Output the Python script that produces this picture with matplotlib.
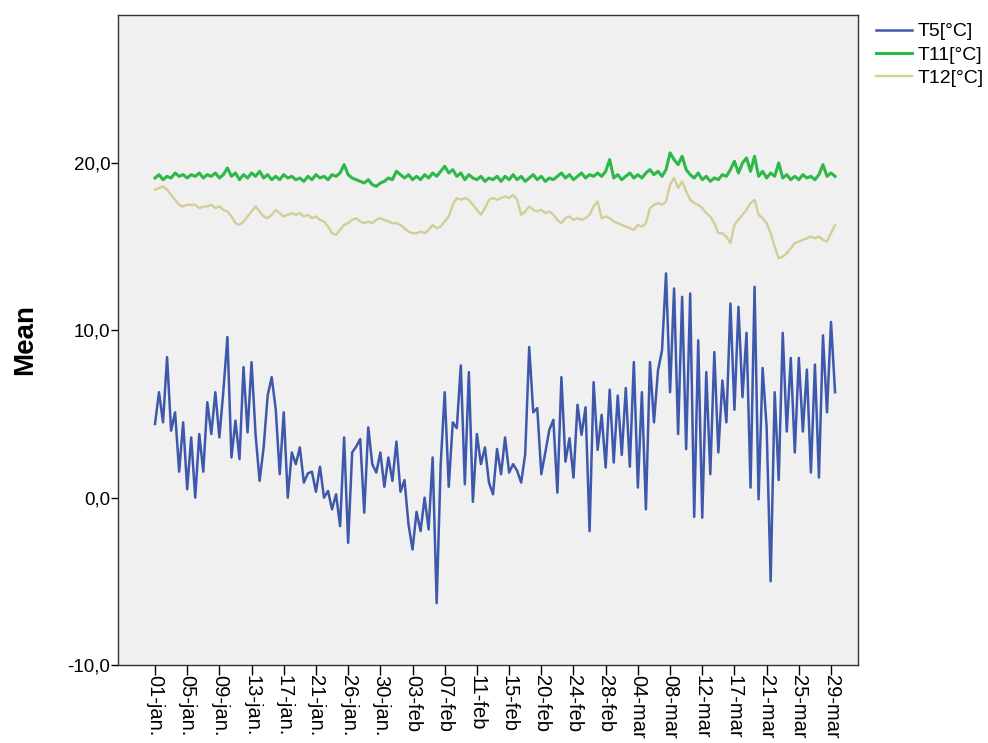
import matplotlib.pyplot as plt
import numpy as np

# two samples per day (daily low/high), 01-jan .. 29-mar, three days missing
t5 = [4.4, 6.3, 4.5, 8.4, 4.0, 5.1, 1.55, 4.5, 0.5, 3.6,
      0.0, 3.8, 1.55, 5.7, 3.8, 6.3, 3.6, 6.4, 9.6, 2.4,
      4.6, 2.3, 7.8, 3.9, 8.1, 3.75, 1.0, 3.0, 6.1, 7.2,
      5.3, 1.4, 5.1, 0.0, 2.7, 2.0, 3.0, 0.9, 1.45, 1.55,
      0.35, 1.85, 0.0, 0.4, -0.7, 0.2, -1.7, 3.6, -2.7, 2.7,
      3.05, 3.5, -0.9, 4.2, 2.0, 1.5, 2.7, 0.65, 2.4, 1.0,
      3.35, 0.35, 1.05, -1.6, -3.1, -0.85, -2.0, 0.0, -1.9, 2.4,
      -6.3, 2.0, 6.3, 0.65, 4.5, 4.15, 7.9, 0.8, 7.5, -0.25,
      3.8, 2.0, 3.0, 0.9, 0.2, 2.9, 1.4, 3.6, 1.5, 2.0,
      1.6, 0.9, 2.6, 9.0, 5.1, 5.35, 1.4, 2.7, 4.05, 4.65,
      0.3, 7.2, 2.15, 3.55, 1.2, 5.55, 3.75, 5.4, -2.0, 6.9,
      2.85, 4.95, 1.8, 6.45, 2.1, 6.1, 2.55, 6.55, 1.85, 8.1,
      0.6, 6.3, -0.7, 8.1, 4.5, 7.6, 8.8, 13.4, 6.3, 12.5,
      3.8, 12.0, 2.9, 12.2, -1.15, 9.4, -1.2, 7.5, 1.4, 8.7,
      2.7, 7.0, 4.5, 11.6, 5.25, 11.4, 6.0, 9.85, 0.6, 12.6,
      -0.1, 7.75, 4.2, -5.0, 6.3, 1.05, 9.85, 3.95, 8.35, 2.7,
      8.35, 3.95, 7.65, 1.5, 7.95, 1.2, 9.7, 5.1, 10.5, 6.3]

t11 = [19.1, 19.3, 19.0, 19.2, 19.1, 19.4, 19.2, 19.3, 19.1, 19.3,
       19.2, 19.4, 19.1, 19.3, 19.2, 19.4, 19.1, 19.3, 19.7, 19.2,
       19.4, 19.0, 19.3, 19.1, 19.4, 19.2, 19.5, 19.1, 19.3, 19.0,
       19.2, 19.0, 19.3, 19.1, 19.2, 19.0, 19.1, 18.9, 19.2, 19.0,
       19.3, 19.1, 19.2, 19.0, 19.3, 19.2, 19.4, 19.9, 19.3, 19.1,
       19.0, 18.9, 18.8, 19.0, 18.7, 18.6, 18.8, 18.9, 19.1, 19.0,
       19.5, 19.3, 19.1, 19.3, 19.0, 19.2, 19.0, 19.3, 19.1, 19.4,
       19.2, 19.5, 19.8, 19.4, 19.6, 19.2, 19.4, 19.0, 19.3, 19.1,
       19.0, 19.2, 18.9, 19.1, 19.0, 19.2, 18.9, 19.2, 19.0, 19.3,
       19.0, 19.2, 18.9, 19.1, 19.3, 19.0, 19.2, 18.9, 19.1, 19.0,
       19.2, 19.4, 19.1, 19.3, 19.0, 19.2, 19.4, 19.1, 19.3, 19.2,
       19.4, 19.2, 19.5, 20.2, 19.1, 19.3, 19.0, 19.2, 19.4, 19.1,
       19.3, 19.1, 19.4, 19.6, 19.3, 19.5, 19.2, 19.6, 20.6, 20.2,
       19.9, 20.4, 19.6, 19.3, 19.1, 19.4, 19.0, 19.2, 18.9, 19.1,
       19.0, 19.3, 19.2, 19.6, 20.1, 19.4, 20.0, 20.3, 19.5, 20.4,
       19.2, 19.5, 19.1, 19.4, 19.2, 20.0, 19.1, 19.3, 19.0, 19.2,
       19.0, 19.3, 19.1, 19.2, 19.0, 19.3, 19.9, 19.2, 19.4, 19.2]

t12 = [18.4, 18.5, 18.6, 18.4, 18.1, 17.8, 17.5, 17.4, 17.5, 17.5,
       17.5, 17.3, 17.4, 17.4, 17.5, 17.3, 17.4, 17.2, 17.1, 16.8,
       16.4, 16.3, 16.5, 16.8, 17.1, 17.4, 17.1, 16.8, 16.7, 16.9,
       17.2, 17.0, 16.8, 16.9, 17.0, 16.9, 17.0, 16.8, 16.9, 16.7,
       16.8, 16.6, 16.5, 16.2, 15.8, 15.7, 16.0, 16.3, 16.4, 16.6,
       16.7, 16.5, 16.4, 16.5, 16.4, 16.6, 16.7, 16.6, 16.5, 16.4,
       16.4, 16.3, 16.1, 15.9, 15.8, 15.8, 15.9, 15.8, 16.0, 16.3,
       16.1, 16.2, 16.5, 16.8, 17.5, 17.9, 17.8, 17.9, 17.8, 17.5,
       17.2, 16.9, 17.3, 17.8, 17.9, 17.8, 17.9, 18.0, 17.9, 18.1,
       17.8, 16.9, 17.1, 17.4, 17.2, 17.1, 17.2, 17.0, 17.1, 16.9,
       16.6, 16.4, 16.7, 16.8, 16.6, 16.7, 16.6, 16.7, 16.9, 17.4,
       17.7, 16.7, 16.8, 16.7, 16.5, 16.4, 16.3, 16.2, 16.1, 16.0,
       16.3, 16.2, 16.4, 17.3, 17.5, 17.6, 17.5, 17.7, 18.7, 19.1,
       18.5, 18.9, 18.3, 17.8, 17.6, 17.5, 17.3, 17.0, 16.8, 16.4,
       15.8, 15.8, 15.6, 15.2, 16.3, 16.6, 16.9, 17.2, 17.6, 17.8,
       16.9, 16.7, 16.4, 15.8, 15.0, 14.3, 14.4, 14.6, 14.9, 15.2,
       15.3, 15.4, 15.5, 15.6, 15.5, 15.6, 15.4, 15.3, 15.8, 16.3]

tick_labels = ['01-jan.', '05-jan.', '09-jan.', '13-jan.', '17-jan.', '21-jan.',
               '26-jan.', '30-jan.', '03-feb', '07-feb', '11-feb', '15-feb',
               '20-feb', '24-feb', '28-feb', '04-mar', '08-mar', '12-mar',
               '17-mar', '21-mar', '25-mar', '29-mar']

plt.rcParams['font.family'] = ['Liberation Sans', 'DejaVu Sans']

fig = plt.figure(figsize=(9.88, 7.43), dpi=100, facecolor='white')
ax = fig.add_axes([0.1194, 0.105, 0.7490, 0.8748])
ax.set_facecolor('#f0f0f0')

x = np.arange(len(t5))
ax.plot(x, t5, color='#3e58ac', lw=1.8, label='T5[°C]')
ax.plot(x, t11, color='#2eb848', lw=2.2, label='T11[°C]')
ax.plot(x, t12, color='#d3ce97', lw=1.7, label='T12[°C]')

ax.set_xlim(-9.2, 174.7)
ax.set_ylim(-10, 28.84)

ax.set_yticks([-10, 0, 10, 20])
ax.set_yticklabels(['-10,0', '0,0', '10,0', '20,0'], fontsize=13.5)
ax.set_xticks(np.arange(0, len(t5), 8))
ax.set_xticklabels(tick_labels, rotation=270, fontsize=14.5, va='top', ha='center')
ax.tick_params(axis='y', direction='out', length=5, width=1, color='black', pad=0.5)
ax.tick_params(axis='x', direction='out', length=7, width=1, color='black', pad=0)

for s in ax.spines.values():
    s.set_color('#333333')
    s.set_linewidth(1.0)

ax.set_ylabel('Mean', fontsize=20, fontweight='bold', labelpad=21)

ax.legend(loc='upper left', bbox_to_anchor=(1.003, 1.012), frameon=False,
          fontsize=14, handlelength=1.85, handletextpad=0.3, labelspacing=0.3,
          borderaxespad=0.4)

fig.savefig('out.png', dpi=100, facecolor='white')
